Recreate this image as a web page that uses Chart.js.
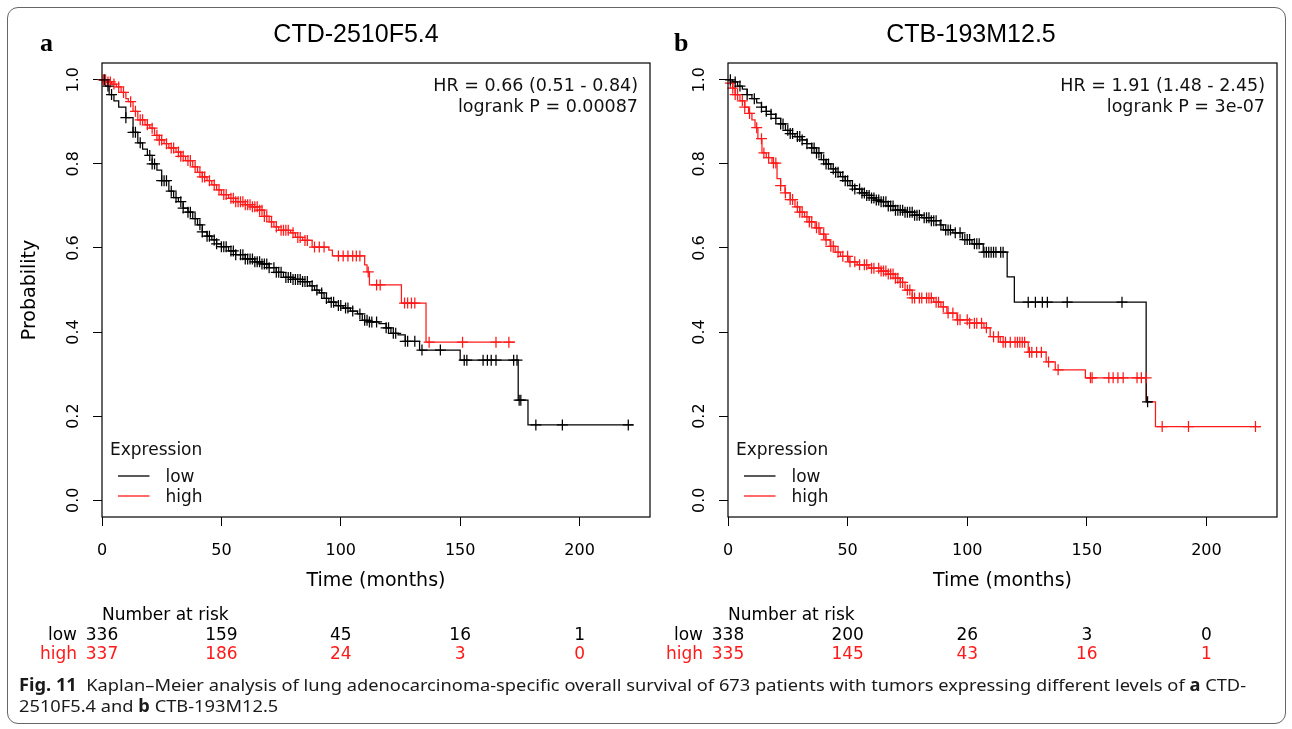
<!DOCTYPE html>
<html lang="en">
<head>
<meta charset="UTF-8">
<title>Kaplan-Meier curves</title>
<script src="https://cdn.jsdelivr.net/npm/chart.js@4.4.1/dist/chart.umd.min.js"></script>
<style>
    body { margin: 0; background: #fff; }
    #page { position: relative; width: 1292px; height: 729px; overflow: hidden; background: #fff; }
    #page canvas { position: absolute; left: 0; top: 0; }
    #frame { position: absolute; left: 7px; top: 7px; width: 1279px; height: 717px; box-sizing: border-box;
             border: 1px solid #666; border-radius: 11px; }
    .cap { position: absolute; left: 19px; font-family: "Noto Sans"; font-size: 17px; line-height: 20px;
           white-space: nowrap; transform-origin: 0 0; color: #1a1a1a; }
</style>
</head>
<body>
<div id="page">
    <div id="frame"></div>
    <canvas id="panel-a" width="1292" height="729"></canvas>
    <canvas id="panel-b" width="1292" height="729"></canvas>
    <div class="cap" id="cap1" style="top: 675px"><b>Fig. 11</b>&nbsp; Kaplan–Meier analysis of lung adenocarcinoma-specific overall survival of 673 patients with tumors expressing different levels of <b>a</b> CTD-</div>
    <div class="cap" id="cap2" style="top: 696px">2510F5.4 and <b>b</b> CTB-193M12.5</div>
</div>

<script>
    // ---- data (months, survival probability) ----
    // panel a: CTD-2510F5.4
    const aLowT = [0, 1.5, 3, 5, 7, 10, 13, 15, 17, 19, 21, 23, 25, 28, 30, 32, 34, 36, 38, 40, 42, 44, 46, 48, 50,
        53, 56, 60, 64, 67, 70, 73, 76, 80, 84, 87, 89, 91, 93, 95, 98, 101, 104, 107, 109, 112, 116, 119, 121, 124,
        127, 133, 150, 174.3, 178.4];
    const aLowS = [1, 0.985, 0.965, 0.95, 0.935, 0.91, 0.875, 0.85, 0.835, 0.82, 0.8, 0.785, 0.76, 0.735, 0.72, 0.71,
        0.695, 0.685, 0.67, 0.655, 0.638, 0.628, 0.619, 0.61, 0.603, 0.593, 0.584, 0.574, 0.567, 0.562, 0.553, 0.542,
        0.53, 0.525, 0.52, 0.51, 0.5, 0.493, 0.48, 0.471, 0.463, 0.457, 0.45, 0.443, 0.428, 0.424, 0.42, 0.41, 0.397,
        0.393, 0.378, 0.357, 0.333, 0.238, 0.179];
    const aLowEnd = 222.5;
    const aLowCens = [1, 2.5, 4, 10, 13, 14, 16, 20, 21, 22, 25, 26, 27, 29, 31, 33, 34, 36, 37, 39, 41, 42, 44, 45,
        47, 48, 50, 51, 52, 54, 55, 56, 58, 59, 60, 61, 62, 63, 64, 65, 66, 67, 68, 69, 70, 72, 73, 74, 75, 77, 78,
        79, 80, 81, 82, 83, 84, 85, 86, 88, 90, 92, 94, 96, 97, 99, 100, 102, 103, 105, 108, 110, 111, 112, 113, 115,
        119, 120, 122, 123, 127, 128, 131, 134, 141.7, 151.7, 152.8, 159.6, 161.4, 163, 165, 172.4, 173.8, 174.7,
        175.4, 181.7, 192.8, 220.4];

    const aHighT = [0, 2, 4, 6, 8, 10, 11, 13, 15, 18, 20, 22, 24, 26, 28, 31, 33, 35, 38, 40, 42, 44, 46, 48, 50,
        53, 56, 60, 63, 66, 68, 70, 72, 74, 79, 81, 84, 88, 95, 96.5, 110, 111, 112, 125.4, 135.7];
    const aHighS = [1, 0.995, 0.99, 0.983, 0.97, 0.955, 0.948, 0.925, 0.905, 0.893, 0.885, 0.868, 0.857, 0.848, 0.838,
        0.828, 0.818, 0.808, 0.793, 0.78, 0.769, 0.76, 0.75, 0.738, 0.727, 0.718, 0.71, 0.703, 0.698, 0.69, 0.675,
        0.662, 0.65, 0.642, 0.636, 0.625, 0.618, 0.602, 0.595, 0.581, 0.56, 0.543, 0.512, 0.469, 0.376];
    const aHighEnd = 173;
    const aHighCens = [0.5, 1.5, 2.5, 3.5, 5, 7, 9, 12, 14, 16, 17, 19, 21, 23, 24, 25, 27, 29, 30, 32, 33, 34, 36,
        37, 39, 41, 42, 43, 45, 47, 49, 51, 52, 54, 55, 56, 57, 58, 59, 60, 61, 62, 63, 64, 65, 66, 67, 68, 69, 71,
        73, 75, 76, 77, 78, 80, 82, 83, 85, 86, 89, 91, 93, 99, 101, 103, 105, 106.5, 108, 111.5, 115, 116.5, 126.7,
        128, 129.6, 131, 137, 151, 165, 170.4];

    // panel b: CTB-193M12.5
    const bLowT = [0, 2, 4, 6, 8, 10, 12, 14, 16, 18, 20, 22, 24, 26, 28, 31, 33, 35, 37, 39, 41, 43, 45, 47, 49, 51,
        53, 56, 58, 60, 62, 64, 67, 70, 74, 78, 81, 85, 88.7, 90, 94, 98, 102, 106.7, 116.7, 119.7, 174.8];
    const bLowS = [1, 0.995, 0.985, 0.978, 0.965, 0.955, 0.945, 0.935, 0.925, 0.918, 0.908, 0.895, 0.88, 0.872, 0.865,
        0.857, 0.848, 0.838, 0.826, 0.81, 0.8, 0.788, 0.78, 0.77, 0.76, 0.748, 0.74, 0.731, 0.725, 0.719, 0.714, 0.71,
        0.7, 0.69, 0.685, 0.678, 0.672, 0.665, 0.655, 0.643, 0.636, 0.62, 0.61, 0.59, 0.531, 0.471, 0.234];
    const bLowEnd = 177.3;
    const bLowCens = [1, 3, 5, 8, 11, 14, 16, 18, 20, 22, 23, 25, 26, 27, 29, 30, 31, 33, 35, 36, 37, 38, 40, 41, 42,
        44, 45, 46, 48, 49, 50, 52, 53, 55, 56, 57, 58, 59, 60, 61, 62, 63, 64, 65, 66, 67, 68, 69, 70, 71, 72, 73,
        74, 75, 76, 77, 78, 79, 80, 82, 83, 84, 85, 86, 87, 89, 91, 92, 93, 95, 97, 99, 100, 101, 103, 104, 105, 107,
        108, 109, 110, 111, 112, 114, 115, 125.5, 128.5, 131.4, 133.5, 141.8, 164.7, 175.4];

    const bHighT = [0, 1, 2, 3, 5, 7, 8.6, 10, 11.3, 12.5, 14.2, 16, 18.4, 20.5, 22, 23.8, 26, 28, 30, 32, 34, 36.4,
        38.5, 40.6, 42.7, 44.8, 47, 50.5, 54, 58.9, 64, 67, 70, 72, 74, 77, 86, 89, 91.5, 95.7, 101, 107, 109.6, 113.8,
        125.5, 133, 136.8, 149.4, 174.9, 178.7];
    const bHighS = [1, 0.992, 0.98, 0.965, 0.95, 0.935, 0.92, 0.905, 0.886, 0.86, 0.826, 0.815, 0.802, 0.765, 0.748,
        0.731, 0.715, 0.698, 0.685, 0.674, 0.662, 0.648, 0.633, 0.619, 0.604, 0.59, 0.58, 0.567, 0.56, 0.552, 0.545,
        0.538, 0.528, 0.518, 0.5, 0.481, 0.471, 0.46, 0.445, 0.429, 0.421, 0.41, 0.389, 0.376, 0.352, 0.329, 0.31,
        0.291, 0.234, 0.175];
    const bHighEnd = 222.6;
    const bHighCens = [1, 2, 3, 4, 6, 7, 9, 12, 14, 15, 17, 19, 20, 22, 24, 26, 27, 29, 30, 31, 33, 34, 35, 37, 38,
        40, 41, 43, 44, 46, 48, 50, 51, 53, 55, 57, 58, 60, 61, 63, 64, 65, 66, 67, 68, 69, 70, 71, 72, 73, 75, 76,
        77, 78, 80, 81, 83, 84, 85, 87, 88, 90, 92, 94, 96, 97, 100, 101, 103, 104, 106, 108, 111, 113, 115, 116, 118,
        120, 121, 122, 123, 124, 126, 127, 129, 131, 134, 138, 151.5, 152.2, 159.2, 161, 163, 165.2, 171, 172.8,
        174.8, 181.5, 192.5, 220.5];

    // number at risk table
    const riskTimes = [0, 50, 100, 150, 200];
    const aRiskLow = [336, 159, 45, 16, 1];
    const aRiskHigh = [337, 186, 24, 3, 0];
    const bRiskLow = [338, 200, 26, 3, 0];
    const bRiskHigh = [335, 145, 43, 16, 1];

    const RED = '#ff1a1a';
    const BLACK = '#000000';

    // survival value of a step curve at time t
    function survAt(times, surv, t) {
        let s = 1;
        for (let i = 0; i < times.length; i++) {
            if (times[i] <= t) s = surv[i];
        }
        return s;
    }

    function curveSet(times, surv, end, color, label) {
        const pts = times.map((t, i) => ({x: t, y: surv[i]}));
        pts.push({x: end, y: surv[surv.length - 1]});
        return {
            label: label,
            data: pts,
            borderColor: color,
            backgroundColor: color,
            borderWidth: 1.25,
            stepped: true,
            pointRadius: 0,
            fill: false,
            tension: 0
        };
    }

    function censorSet(times, surv, cens, color) {
        return {
            label: 'censored',
            data: cens.map(t => ({x: t, y: survAt(times, surv, t)})),
            showLine: false,
            pointStyle: 'cross',
            pointRadius: 5.5,
            pointBorderWidth: 1.25,
            borderColor: color,
            backgroundColor: color,
            clip: false
        };
    }

    // titles, tick labels, legend, HR text and the at-risk table
    const deco = {
        id: 'deco',
        afterDraw(chart, args, o) {
            const ctx = chart.ctx;
            const a = chart.chartArea;
            const xs = chart.scales.x;
            const ys = chart.scales.y;
            ctx.save();

            ctx.strokeStyle = '#000';
            ctx.lineWidth = 1.2;
            ctx.strokeRect(a.left, a.top, a.right - a.left, a.bottom - a.top);

            ctx.fillStyle = '#000';
            ctx.font = '16px "DejaVu Sans"';
            ctx.textAlign = 'center';
            ctx.textBaseline = 'alphabetic';
            ys.ticks.forEach(t => {
                ctx.save();
                ctx.translate(a.left - 24, ys.getPixelForValue(t.value));
                ctx.rotate(-Math.PI / 2);
                ctx.fillText(t.value.toFixed(1), 0, 0);
                ctx.restore();
            });
            xs.ticks.forEach(t => {
                ctx.fillText(String(t.value), xs.getPixelForValue(t.value), 555);
            });

            ctx.font = '19px "DejaVu Sans"';
            ctx.fillText('Time (months)', (a.left + a.right) / 2, 586);
            if (o.ylab) {
                ctx.save();
                ctx.translate(35, (a.top + a.bottom) / 2);
                ctx.rotate(-Math.PI / 2);
                ctx.fillText(o.ylab, 0, 0);
                ctx.restore();
            }

            ctx.font = '25px "Liberation Sans"';
            ctx.fillText(o.title, o.titleX, 42);
            ctx.textAlign = 'left';
            ctx.font = 'bold 26px "Liberation Serif"';
            ctx.fillText(o.letter, o.letterX, 51);

            ctx.textAlign = 'right';
            ctx.font = '17.5px "DejaVu Sans"';
            ctx.fillStyle = '#111';
            ctx.fillText(o.hr[0], a.right - 12, 91);
            ctx.fillText(o.hr[1], a.right - 12, 112);

            // legend
            ctx.textAlign = 'left';
            ctx.font = '17px "DejaVu Sans"';
            ctx.fillText('Expression', a.left + 8, 455);
            const items = [[chart.data.datasets[2], 476], [chart.data.datasets[3], 496]];
            items.forEach(([ds, y]) => {
                ctx.strokeStyle = ds.borderColor;
                ctx.lineWidth = 1.3;
                ctx.beginPath();
                ctx.moveTo(a.left + 16, y);
                ctx.lineTo(a.left + 47.5, y);
                ctx.stroke();
                ctx.fillStyle = '#111';
                ctx.fillText(ds.label, a.left + 63.5, y + 6);
            });

            // number at risk
            ctx.font = '17px "DejaVu Sans"';
            ctx.fillStyle = '#000';
            ctx.fillText('Number at risk', a.left, 620);
            const rows = [[o.riskLow, 'low', BLACK, 640], [o.riskHigh, 'high', RED, 659]];
            rows.forEach(([vals, name, col, y]) => {
                ctx.fillStyle = col;
                ctx.textAlign = 'right';
                ctx.fillText(name, a.left - 25, y);
                ctx.textAlign = 'center';
                vals.forEach((v, i) => ctx.fillText(String(v), xs.getPixelForValue(riskTimes[i]), y));
            });
            ctx.restore();
        }
    };

    function kmPanel(id, p) {
        const axisGrid = {display: true, drawOnChartArea: false, drawTicks: true, tickLength: 9, color: '#000', lineWidth: 1};
        return new Chart(document.getElementById(id), {
            type: 'line',
            data: {
                // censor marks first so they sit on top of the step lines
                datasets: [
                    censorSet(p.lowT, p.lowS, p.lowCens, BLACK),
                    censorSet(p.highT, p.highS, p.highCens, RED),
                    curveSet(p.lowT, p.lowS, p.lowEnd, BLACK, 'low'),
                    curveSet(p.highT, p.highS, p.highEnd, RED, 'high')
                ]
            },
            options: {
                responsive: false,
                animation: false,
                events: [],
                devicePixelRatio: 1,
                layout: {padding: p.pad},
                plugins: {
                    legend: {display: false},
                    tooltip: {enabled: false},
                    deco: p.deco
                },
                scales: {
                    x: {
                        type: 'linear', min: 0, max: 229.5,
                        afterFit: s => { s.height = 10; },
                        border: {display: false},
                        grid: axisGrid,
                        ticks: {display: false, stepSize: 50, includeBounds: false}
                    },
                    y: {
                        min: -0.04, max: 1.04,
                        afterFit: s => { s.width = 10; },
                        border: {display: false},
                        grid: axisGrid,
                        ticks: {display: false, stepSize: 0.2, includeBounds: false}
                    }
                }
            },
            plugins: [deco]
        });
    }

    kmPanel('panel-a', {
        lowT: aLowT, lowS: aLowS, lowEnd: aLowEnd, lowCens: aLowCens,
        highT: aHighT, highS: aHighS, highEnd: aHighEnd, highCens: aHighCens,
        pad: {left: 92, top: 63, right: 642, bottom: 202},
        deco: {
            title: 'CTD-2510F5.4', titleX: 356, letter: 'a', letterX: 40, ylab: 'Probability',
            hr: ['HR = 0.66 (0.51 - 0.84)', 'logrank P = 0.00087'],
            riskLow: aRiskLow, riskHigh: aRiskHigh
        }
    });

    kmPanel('panel-b', {
        lowT: bLowT, lowS: bLowS, lowEnd: bLowEnd, lowCens: bLowCens,
        highT: bHighT, highS: bHighS, highEnd: bHighEnd, highCens: bHighCens,
        pad: {left: 718, top: 63, right: 15, bottom: 202},
        deco: {
            title: 'CTB-193M12.5', titleX: 971, letter: 'b', letterX: 674, ylab: null,
            hr: ['HR = 1.91 (1.48 - 2.45)', 'logrank P = 3e-07'],
            riskLow: bRiskLow, riskHigh: bRiskHigh
        }
    });

    // stretch the caption lines to the width they take in the figure
    const cap1 = document.getElementById('cap1');
    const cap2 = document.getElementById('cap2');
    const k = 1227 / cap1.scrollWidth;
    cap1.style.transform = 'scaleX(' + k + ')';
    cap2.style.transform = 'scaleX(' + k + ')';
</script>
</body>
</html>
